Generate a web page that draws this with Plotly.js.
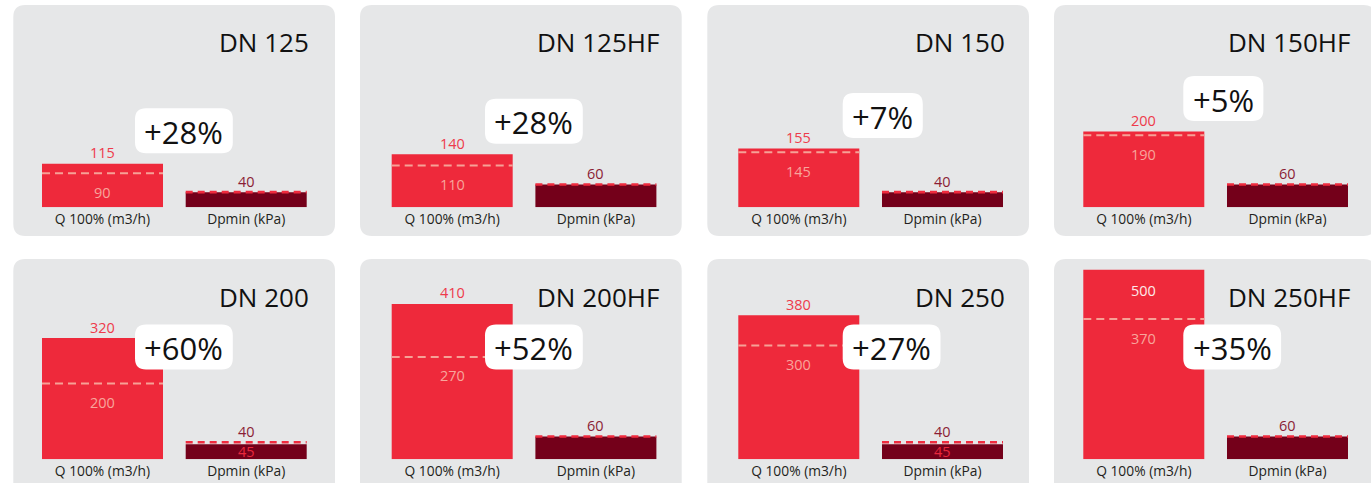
<!DOCTYPE html>
<html><head><meta charset="utf-8">
<script src="https://cdn.plot.ly/plotly-3.0.1.min.js"></script>
<style>html,body{margin:0;padding:0;background:#fff}#chart{width:1371px;height:483px}</style>
</head><body><div id="chart"></div>
<script>
// ---- data ----
const models = ["DN 125","DN 125HF","DN 150","DN 150HF","DN 200","DN 200HF","DN 250","DN 250HF"];
const barCategories = ["Q 100% (m3/h)","Dpmin (kPa)"];
const qNew  = [115,140,155,200,320,410,380,500];
const qOld  = [90,110,145,190,200,270,300,370];
const dpNew = [40,60,40,60,40,60,40,60];
const dpOld = [40,60,40,60,45,60,45,60];
const gainLabels = ["+28%","+28%","+7%","+5%","+60%","+52%","+27%","+35%"];

// ---- layout constants ----
const W = 1371, H = 483;
const FONT = 'Open Sans, Noto Sans, sans-serif';
const C = {panel:'#e6e7e8', q:'#ee293b', dp:'#74001a', qDash:'#f6a196', qIn:'#f8a59c',
           qTop:'#ee3a4b', dpTop:'#8b1d35', dpDash:'#ef2b3e', dpIn:'#e9283d', qTopIn:'#fde9ea'};
const panelLeftPx = [13.3, 360, 707.3, 1054];
const barLeftPx = [42, 391.7, 738.3, 1083.3];
const boxLeftPx = [135, 485, 842.7, 1183.3];
const panelTop = [5, 259], panelBottom = [236, 495], baseline = [207.3, 459.3];
const yMax = 520, pxPerUnit = 0.379, plotH = yMax*pxPerUnit;
const catStep = 143.7;

const px2x = p => p / W, px2y = p => 1 - p / H;
function roundRectPaper(x0, y0, x1, y1, r) {
  const a = px2x(x0), b = px2x(x1), rx = r / W, ry = r / H;
  const t = px2y(y0), u = px2y(y1);
  return `M${a+rx},${t} L${b-rx},${t} Q${b},${t} ${b},${t-ry} L${b},${u+ry} Q${b},${u} ${b-rx},${u} ` +
         `L${a+rx},${u} Q${a},${u} ${a},${u+ry} L${a},${t-ry} Q${a},${t} ${a+rx},${t} Z`;
}
function roundRectPx(w, h, r) {
  return `M${r},${-h} L${w-r},${-h} Q${w},${-h} ${w},${-h+r} L${w},${h-r} Q${w},${h} ${w-r},${h} ` +
         `L${r},${h} Q0,${h} 0,${h-r} L0,${-h+r} Q0,${-h} ${r},${-h} Z`;
}
const cvs = document.createElement('canvas').getContext('2d');
function textWidth(t, size) { cvs.font = size + 'px "Open Sans"'; return cvs.measureText(t).width; }

const data = [], shapes = [], annotations = [];
const layout = {
  width: W, height: H, margin: {l:0, r:0, t:0, b:0},
  paper_bgcolor: '#ffffff', plot_bgcolor: 'rgba(0,0,0,0)',
  showlegend: false, bargap: 0.158, font: {family: FONT}
};
const LBL = 14.5;

models.forEach((name, i) => {
  const r = Math.floor(i/4), c = i % 4;
  const L = panelLeftPx[c];
  const B = barLeftPx[c];
  const d0 = B - catStep*0.079, d1 = d0 + 2*catStep;
  const sfx = i === 0 ? '' : String(i+1);
  const xa = 'x' + sfx, ya = 'y' + sfx;
  layout['xaxis' + sfx] = {
    domain: [px2x(d0), px2x(d1)], anchor: ya, type: 'category',
    categoryarray: barCategories, range: [-0.5, 1.5], showgrid: false, zeroline: false,
    showline: false, ticks: '', ticklabelstandoff: 2,
    tickfont: {family: FONT, size: 13.8, color: '#231f20'}, fixedrange: true
  };
  layout['yaxis' + sfx] = {
    domain: [px2y(baseline[r]), px2y(baseline[r] - plotH)], anchor: xa, range: [0, yMax],
    visible: false, fixedrange: true
  };
  data.push({type: 'bar', x: barCategories, y: [qNew[i], dpNew[i]], xaxis: xa, yaxis: ya,
             marker: {color: [C.q, C.dp], line: {width: 0}}, hoverinfo: 'skip'});

  // panel background
  shapes.push({type: 'path', xref: 'paper', yref: 'paper', layer: 'below',
               path: roundRectPaper(L, panelTop[r], L + 321.7, panelBottom[r], 12),
               fillcolor: C.panel, line: {width: 0}});
  // old-value dashed lines
  shapes.push({type: 'line', xref: xa, yref: ya, x0: -0.421, x1: 0.421, y0: qOld[i], y1: qOld[i],
               layer: 'above', line: {color: C.qDash, width: 2, dash: '8px,5px'}});
  shapes.push({type: 'line', xref: xa, yref: ya, x0: 0.579, x1: 1.421, y0: dpOld[i], y1: dpOld[i],
               layer: 'above', line: {color: C.dpDash, width: 2.6, dash: '7px,5px'}});

  // gain box
  const tw = textWidth(gainLabels[i], 31);
  const bw = tw + 19;
  const bLeft = boxLeftPx[c];
  const yc = Math.min(qNew[i] + 87, 296);
  shapes.push({type: 'path', xref: 'paper', yref: ya, xsizemode: 'pixel', ysizemode: 'pixel',
               xanchor: px2x(bLeft), yanchor: yc, path: roundRectPx(bw, 22.5, 11),
               fillcolor: '#ffffff', line: {width: 0}, layer: 'above'});
  annotations.push({xref: 'paper', yref: ya, x: px2x(bLeft + bw/2), y: yc, xanchor: 'center', yanchor: 'middle',
                    text: gainLabels[i], showarrow: false, yshift: -1, font: {family: FONT, size: 31, color: '#111'}});

  // title
  annotations.push({xref: 'paper', yref: 'paper', x: px2x(B + 269), y: px2y(panelTop[r] + 37.5),
                    xanchor: 'right', yanchor: 'middle', text: name, showarrow: false,
                    font: {family: FONT, size: 26, color: '#111'}});

  // Q labels
  const qTopVal = Math.max(qNew[i], qOld[i]);
  const inside = qTopVal > 470;
  annotations.push({xref: xa, yref: ya, x: barCategories[0], y: qTopVal, yanchor: 'middle',
                    yshift: inside ? -21 : 11, text: String(qNew[i]), showarrow: false,
                    font: {family: FONT, size: LBL, color: inside ? C.qTopIn : C.qTop}});
  annotations.push({xref: xa, yref: ya, x: barCategories[0], y: qOld[i], yanchor: 'middle',
                    yshift: -19, text: String(qOld[i]), showarrow: false,
                    font: {family: FONT, size: LBL, color: C.qIn}});
  // Dp labels
  annotations.push({xref: xa, yref: ya, x: barCategories[1], y: Math.max(dpNew[i], dpOld[i]), yanchor: 'middle',
                    yshift: 11, text: String(dpNew[i]), showarrow: false,
                    font: {family: FONT, size: LBL, color: C.dpTop}});
  if (dpOld[i] !== dpNew[i]) {
    annotations.push({xref: xa, yref: ya, x: barCategories[1], y: dpNew[i]/2, yanchor: 'middle',
                      text: String(dpOld[i]), showarrow: false,
                      font: {family: FONT, size: LBL, color: C.dpIn}});
  }
});
layout.shapes = shapes;
layout.annotations = annotations;
Plotly.newPlot('chart', data, layout, {staticPlot: true, displayModeBar: false});
</script>
</body></html>
